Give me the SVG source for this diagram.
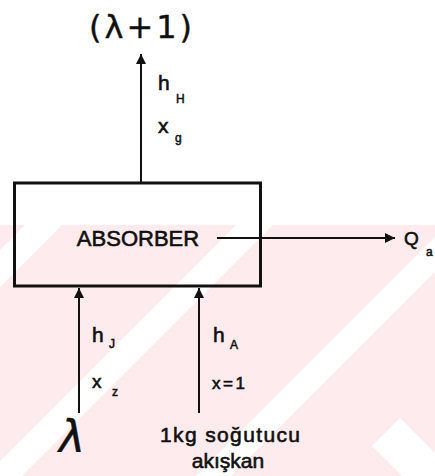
<svg xmlns="http://www.w3.org/2000/svg" width="435" height="476" viewBox="0 0 435 476">
  <defs>
    <style>
      .lbl { font-family: "Liberation Sans", Arial, sans-serif; fill: #111; stroke: #111; stroke-width: 0.6; }
      .sub { font-family: "Liberation Sans", Arial, sans-serif; fill: #111; stroke: #111; stroke-width: 0.5; font-size: 12px; }
      .hand { font-family: "DejaVu Sans", sans-serif; fill: #111; stroke: #111; stroke-width: 0.4; }
      .line { stroke: #111; stroke-width: 2; fill: none; }
      .stripe { fill: #ffffff; }
    </style>
    <marker id="ah" viewBox="0 0 10 10" refX="10" refY="5" markerWidth="10" markerHeight="12" markerUnits="userSpaceOnUse" orient="auto">
      <path d="M0,0 L10,5 L0,10 z" fill="#111"/>
    </marker>
    <clipPath id="wm">
      <rect x="0" y="225" width="435" height="251"/>
    </clipPath>
  </defs>

  <rect x="0" y="0" width="435" height="476" fill="#ffffff"/>
  <g id="watermark" clip-path="url(#wm)">
    <rect x="0" y="225" width="435" height="251" fill="#fdebee"/>
    <polygon class="stripe" points="25,225 62,225 -189,476 -226,476"/>
    <polygon class="stripe" points="236,225 273,225 22,476 -15,476"/>
    <polygon class="stripe" points="447,225 482,225 231,476 196,476"/>
    <polygon class="stripe" points="372,446 400,418 435,453 435,476 402,476"/>
  </g>

  <g id="absorber">
    <rect x="14.5" y="183" width="246" height="103" fill="none" stroke="#111" stroke-width="3"/>
    <text class="lbl" x="138" y="246" font-size="22" text-anchor="middle">ABSORBER</text>
  </g>

  <g id="top-flow">
    <text class="hand" x="142" y="38" font-size="32" text-anchor="middle" letter-spacing="3">(λ+1)</text>
    <text class="lbl" x="158" y="90" font-size="21">h</text>
    <text class="sub" x="176" y="103">H</text>
    <text class="lbl" x="158" y="133" font-size="21">x</text>
    <text class="sub" x="175" y="142">g</text>
  </g>

  <g id="heat-out">
    <text class="lbl" x="404" y="245" font-size="19">Q</text>
    <text class="sub" x="426" y="256">a</text>
  </g>

  <g id="solution-in">
    <text class="lbl" x="92" y="342" font-size="21">h</text>
    <text class="sub" x="109" y="348">J</text>
    <text class="lbl" x="92" y="388" font-size="19">x</text>
    <text class="sub" x="112" y="396">z</text>
    <text class="hand" x="72" y="452" font-size="44" text-anchor="middle" font-style="italic">λ</text>
  </g>

  <g id="refrigerant-in">
    <text class="lbl" x="213" y="342" font-size="21">h</text>
    <text class="sub" x="230" y="349">A</text>
    <text class="lbl" x="212" y="389" font-size="17" textLength="33" lengthAdjust="spacing">x=1</text>
    <text class="lbl" x="230" y="442" font-size="21" text-anchor="middle" textLength="140" lengthAdjust="spacing">1kg soğutucu</text>
    <text class="lbl" x="228" y="468" font-size="21" text-anchor="middle">akışkan</text>
  </g>

  <g id="connectors">
    <line class="line" x1="141" y1="182" x2="141" y2="54" marker-end="url(#ah)"/>
    <line class="line" x1="217" y1="238" x2="395" y2="238" marker-end="url(#ah)"/>
    <line class="line" x1="79" y1="413" x2="79" y2="288" marker-end="url(#ah)"/>
    <line class="line" x1="199" y1="413" x2="199" y2="288" marker-end="url(#ah)"/>
  </g>
</svg>
